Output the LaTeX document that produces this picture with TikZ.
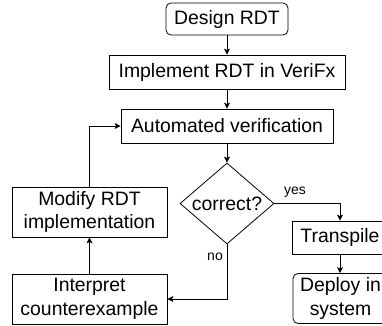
\documentclass[tikz,border=0pt]{standalone}
\usepackage{fontspec}
\setmainfont{Liberation Sans}
\usetikzlibrary{shapes.geometric,arrows.meta}
\begin{document}
\begin{tikzpicture}[x=1pt,y=-1pt,
  every node/.style={font=\fontsize{19.4}{23.5}\selectfont, inner sep=0pt, align=center},
  boxnode/.style={draw, line width=0.8pt, rectangle},
  roundnode/.style={boxnode, rounded corners=5pt},
  decnode/.style={draw, line width=0.8pt, diamond, aspect=1.16, minimum width=94pt, minimum height=81pt},
  lbl/.style={font=\fontsize{14}{16}\selectfont},
  conn/.style={draw, line width=0.8pt, -{Stealth[length=6pt,width=6pt,inset=1.5pt]}}
]
\useasboundingbox (0,0) rectangle (382,325);
\clip (0,0) rectangle (382,325);
\node[roundnode, minimum width=122pt, minimum height=32pt] (design) at (227,19) {Design RDT};
\node[boxnode, minimum width=236pt, minimum height=34pt] (impl) at (227,72) {Implement RDT in VeriFx};
\node[boxnode, minimum width=212pt, minimum height=34pt] (auto) at (227,126) {Automated verification};
\node[decnode] (dec) at (227,203.5) {correct?};
\node[boxnode, minimum width=155pt, minimum height=50pt] (modify) at (89.5,212) {Modify RDT\\implementation};
\node[boxnode, minimum width=155pt, minimum height=50pt] (interp) at (89.5,299) {Interpret\\counterexample};
\node[boxnode, minimum width=96pt, minimum height=33pt] (trans) at (340,237.5) {Transpile};
\node[roundnode, minimum width=95pt, minimum height=50pt] (deploy) at (340.5,298.5) {Deploy in\\system};
\draw[conn] (design) -- (impl);
\draw[conn] (impl) -- (auto);
\draw[conn] (auto) -- (dec);
\draw[conn] (dec.east) -| (trans.north);
\draw[conn] (trans) -- (deploy.north -| trans.south);
\draw[conn] (dec.south) |- (interp.east);
\draw[conn] (interp) -- (modify);
\draw[conn] (modify.north) |- (auto.west);
\node[lbl] (yes) at (295,192) {yes};
\node[lbl] (no) at (215,257) {no};
\end{tikzpicture}
\end{document}
